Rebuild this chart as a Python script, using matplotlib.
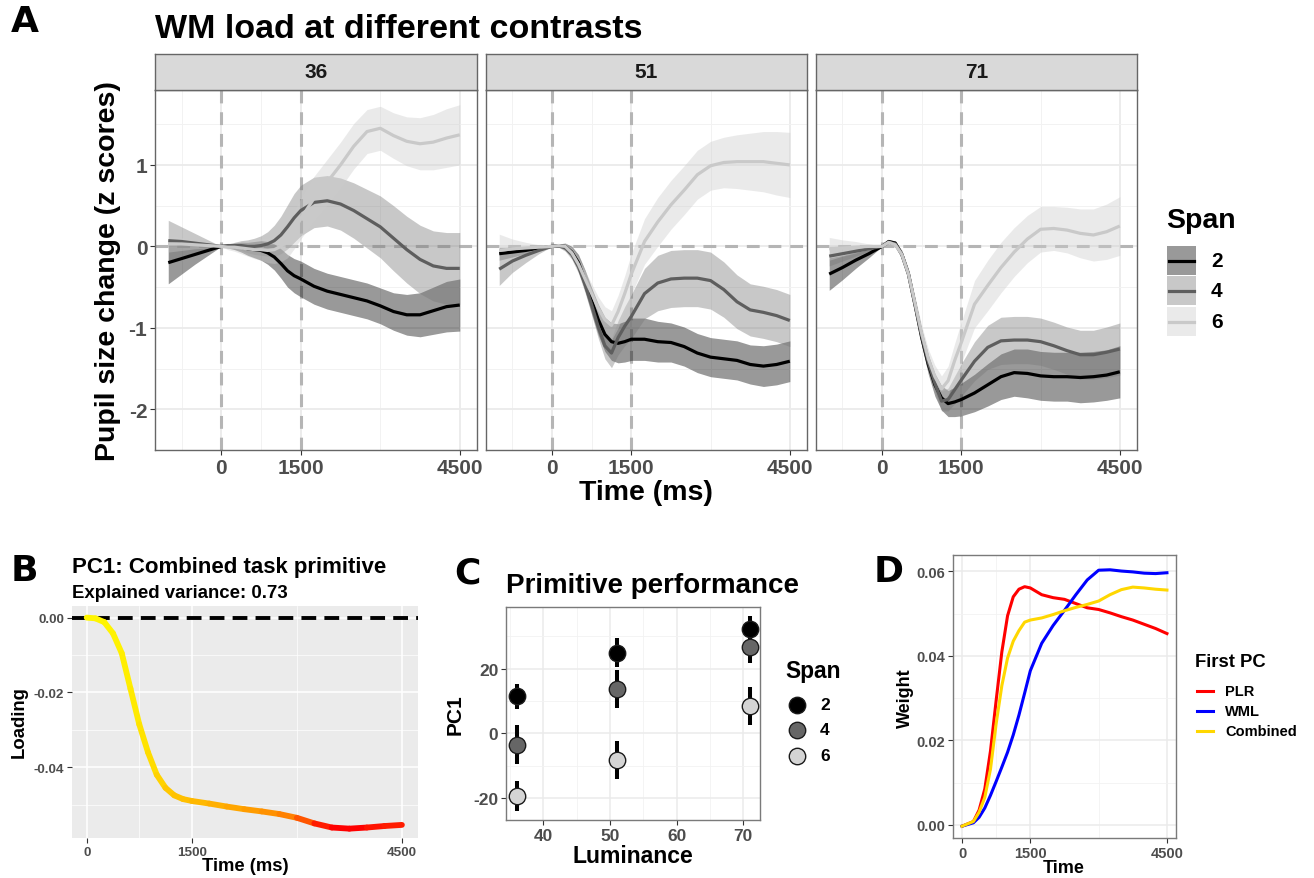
import numpy as np
import matplotlib
matplotlib.use("Agg")
import matplotlib.pyplot as plt
from matplotlib.collections import LineCollection
from matplotlib.colors import LinearSegmentedColormap, Normalize
from matplotlib.patches import Rectangle
from matplotlib.lines import Line2D

plt.rcParams['font.family'] = ['Liberation Sans', 'DejaVu Sans']
plt.rcParams['font.weight'] = 'bold'

# ---------------- DATA ----------------
# Panel A: pupil size change (z scores) by contrast facet and span
time_a = [-1000, -750, -500, -250, 0, 125, 250, 375, 500, 625, 750, 875, 1000, 1125,
          1250, 1375, 1500, 1750, 2000, 2250, 2500, 2750, 3000, 3250, 3500, 3750,
          4000, 4250, 4500]
facets = ["36", "51", "71"]
spans = ["2", "4", "6"]

c36_s2 = [-0.20, -0.15, -0.10, -0.05, 0, 0.0, 0.0, -0.01, -0.03, -0.04, -0.05, -0.08, -0.13, -0.21,
          -0.30, -0.36, -0.40, -0.49, -0.55, -0.59, -0.63, -0.67, -0.73, -0.80, -0.84, -0.84,
          -0.79, -0.74, -0.72]
c36_s2_ci = [0.26, 0.19, 0.12, 0.06, 0, 0.02, 0.04, 0.06, 0.08, 0.10, 0.12, 0.14, 0.16, 0.18,
             0.20, 0.21, 0.22, 0.22, 0.22, 0.22, 0.22, 0.22, 0.22, 0.23, 0.25, 0.27,
             0.29, 0.31, 0.32]
c36_s4 = [0.07, 0.06, 0.04, 0.02, 0, 0.01, 0.01, 0.01, 0.0, 0.0, 0.01, 0.03, 0.07, 0.14,
          0.24, 0.35, 0.44, 0.54, 0.56, 0.52, 0.44, 0.34, 0.24, 0.10, -0.04, -0.16,
          -0.24, -0.27, -0.27]
c36_s4_ci = [0.25, 0.18, 0.12, 0.06, 0, 0.02, 0.04, 0.06, 0.08, 0.10, 0.12, 0.15, 0.19, 0.23,
             0.27, 0.30, 0.31, 0.31, 0.31, 0.32, 0.34, 0.36, 0.38, 0.40, 0.41, 0.42,
             0.43, 0.44, 0.44]
c36_s6 = [0.03, 0.03, 0.02, 0.01, 0, -0.01, -0.01, -0.02, -0.03, -0.04, -0.04, -0.05, -0.04, 0.0,
          0.07, 0.20, 0.34, 0.59, 0.79, 1.00, 1.23, 1.41, 1.45, 1.36, 1.29, 1.26,
          1.28, 1.33, 1.37]
c36_s6_ci = [0.10, 0.08, 0.05, 0.03, 0, 0.03, 0.05, 0.07, 0.09, 0.11, 0.13, 0.15, 0.17, 0.19,
             0.21, 0.23, 0.25, 0.27, 0.28, 0.28, 0.28, 0.27, 0.27, 0.28, 0.30, 0.32,
             0.34, 0.36, 0.37]

c51_s2 = [-0.09, -0.07, -0.05, -0.02, 0, 0.01, 0.0, -0.07, -0.20, -0.42, -0.67, -0.90, -1.08, -1.17,
          -1.19, -1.17, -1.14, -1.14, -1.17, -1.18, -1.23, -1.31, -1.36, -1.38, -1.40, -1.45,
          -1.47, -1.45, -1.41]
c51_s2_ci = [0.08, 0.06, 0.04, 0.02, 0, 0.02, 0.04, 0.07, 0.10, 0.13, 0.16, 0.19, 0.21, 0.23,
             0.24, 0.25, 0.26, 0.26, 0.25, 0.24, 0.24, 0.24, 0.24, 0.24, 0.24, 0.24,
             0.25, 0.25, 0.25]
c51_s4 = [-0.28, -0.18, -0.11, -0.05, 0, 0.01, -0.02, -0.10, -0.25, -0.47, -0.72, -0.99, -1.22, -1.31,
          -1.12, -0.98, -0.86, -0.58, -0.45, -0.40, -0.39, -0.39, -0.42, -0.53, -0.68, -0.78,
          -0.81, -0.85, -0.91]
c51_s4_ci = [0.20, 0.14, 0.09, 0.04, 0, 0.02, 0.04, 0.06, 0.08, 0.10, 0.12, 0.14, 0.16, 0.18,
             0.21, 0.24, 0.27, 0.31, 0.34, 0.35, 0.35, 0.35, 0.35, 0.34, 0.33, 0.32,
             0.32, 0.32, 0.32]
c51_s6 = [-0.05, -0.03, -0.02, -0.01, 0, 0.01, 0.0, -0.08, -0.22, -0.40, -0.58, -0.76, -0.90, -0.97,
          -0.80, -0.58, -0.34, 0.06, 0.30, 0.51, 0.69, 0.88, 0.99, 1.03, 1.04, 1.04,
          1.04, 1.02, 1.00]
c51_s6_ci = [0.20, 0.12, 0.07, 0.03, 0, 0.02, 0.04, 0.06, 0.08, 0.10, 0.12, 0.14, 0.16, 0.18,
             0.20, 0.22, 0.25, 0.28, 0.30, 0.30, 0.30, 0.30, 0.30, 0.31, 0.33, 0.35,
             0.37, 0.39, 0.40]

c71_s2 = [-0.34, -0.26, -0.17, -0.09, 0, 0.06, 0.04, -0.10, -0.34, -0.72, -1.12, -1.45, -1.70, -1.86,
          -1.93, -1.91, -1.88, -1.80, -1.70, -1.60, -1.55, -1.56, -1.59, -1.60, -1.60, -1.61,
          -1.60, -1.58, -1.54]
c71_s2_ci = [0.20, 0.15, 0.10, 0.05, 0, 0.02, 0.03, 0.05, 0.06, 0.08, 0.10, 0.12, 0.14, 0.15,
             0.16, 0.18, 0.20, 0.23, 0.26, 0.28, 0.29, 0.30, 0.30, 0.30, 0.30, 0.31,
             0.31, 0.31, 0.32]
c71_s4 = [-0.12, -0.09, -0.06, -0.03, 0, 0.05, 0.03, -0.10, -0.34, -0.72, -1.10, -1.42, -1.68, -1.90,
          -1.88, -1.76, -1.64, -1.41, -1.24, -1.16, -1.15, -1.15, -1.17, -1.22, -1.28, -1.33,
          -1.33, -1.30, -1.26]
c71_s4_ci = [0.12, 0.09, 0.06, 0.03, 0, 0.02, 0.03, 0.04, 0.05, 0.06, 0.07, 0.08, 0.10, 0.12,
             0.14, 0.17, 0.20, 0.24, 0.27, 0.29, 0.29, 0.29, 0.29, 0.29, 0.29, 0.30,
             0.30, 0.31, 0.32]
c71_s6 = [-0.03, -0.02, -0.01, 0.0, 0, 0.05, 0.02, -0.10, -0.34, -0.70, -1.07, -1.38, -1.60, -1.75,
          -1.65, -1.40, -1.18, -0.71, -0.48, -0.26, -0.07, 0.09, 0.21, 0.22, 0.20, 0.16,
          0.14, 0.18, 0.25]
c71_s6_ci = [0.14, 0.10, 0.07, 0.03, 0, 0.02, 0.03, 0.05, 0.06, 0.08, 0.10, 0.12, 0.14, 0.16,
             0.18, 0.21, 0.25, 0.29, 0.31, 0.31, 0.30, 0.29, 0.28, 0.27, 0.28, 0.30,
             0.32, 0.34, 0.36]

panel_a = {
    "36": [(c36_s2, c36_s2_ci), (c36_s4, c36_s4_ci), (c36_s6, c36_s6_ci)],
    "51": [(c51_s2, c51_s2_ci), (c51_s4, c51_s4_ci), (c51_s6, c51_s6_ci)],
    "71": [(c71_s2, c71_s2_ci), (c71_s4, c71_s4_ci), (c71_s6, c71_s6_ci)],
}

# Panel B: PC1 loading
time_b = [0, 125, 250, 375, 500, 625, 750, 875, 1000, 1125, 1250, 1375, 1500, 1750, 2000,
          2250, 2500, 2750, 3000, 3250, 3500, 3750, 4000, 4250, 4500]
loading_b = [0.0, -0.0002, -0.0012, -0.0042, -0.0095, -0.0190, -0.0285, -0.0360, -0.0420,
             -0.0455, -0.0475, -0.0485, -0.0490, -0.0497, -0.0505, -0.0512, -0.0518, -0.0525,
             -0.0535, -0.0550, -0.0561, -0.0564, -0.0561, -0.0557, -0.0554]

# Panel C: primitive performance
luminance = [36, 51, 71]
pc1_mean = {"2": [11.5, 25.0, 32.4], "4": [-3.6, 13.8, 26.6], "6": [-19.4, -8.2, 8.6]}
pc1_low = {"2": [7.6, 20.5, 28.5], "4": [-9.5, 7.8, 21.8], "6": [-24.0, -14.0, 2.7]}
pc1_high = {"2": [15.2, 29.6, 36.3], "4": [2.6, 19.7, 30.4], "6": [-14.7, -2.5, 14.3]}

# Panel D: first PC weights
time_d = [0, 250, 375, 500, 625, 750, 875, 1000, 1125, 1250, 1375, 1500, 1750, 2000, 2250,
          2500, 2750, 3000, 3250, 3500, 3750, 4000, 4250, 4500]
w_plr = [-0.0003, 0.0008, 0.0035, 0.0085, 0.0175, 0.0295, 0.0410, 0.0495, 0.0540, 0.0558,
         0.0564, 0.0561, 0.0545, 0.0538, 0.0534, 0.0524, 0.0514, 0.0510, 0.0502, 0.0493,
         0.0485, 0.0475, 0.0465, 0.0453]
w_wml = [-0.0003, 0.0005, 0.0018, 0.0040, 0.0070, 0.0103, 0.0137, 0.0172, 0.0213, 0.0260,
         0.0312, 0.0365, 0.0430, 0.0472, 0.0508, 0.0545, 0.0580, 0.0603, 0.0604, 0.0601,
         0.0599, 0.0596, 0.0595, 0.0597]
w_comb = [-0.0003, 0.0008, 0.0030, 0.0065, 0.0132, 0.0240, 0.0330, 0.0395, 0.0435, 0.0460,
          0.0480, 0.0485, 0.0490, 0.0498, 0.0507, 0.0515, 0.0522, 0.0530, 0.0545, 0.0557,
          0.0563, 0.0561, 0.0558, 0.0556]
pc_names = ["PLR", "WML", "Combined"]

# ---------------- STYLE ----------------
W, H = 1314, 879
fig = plt.figure(figsize=(W / 100, H / 100), dpi=100)
TICKC = '#4d4d4d'


def px_axes(x0, y0, x1, y1):
    return fig.add_axes([x0 / W, 1 - y1 / H, (x1 - x0) / W, (y1 - y0) / H])


def style_ticks(ax, size, left=True, bottom=True):
    ax.tick_params(which='major', length=3.5, width=0.8, color='#333333',
                   labelsize=size, labelcolor=TICKC, pad=2,
                   left=left, bottom=bottom, labelleft=left, labelbottom=bottom)
    ax.tick_params(which='minor', length=0)
    for lab in ax.get_xticklabels() + ax.get_yticklabels():
        lab.set_fontweight('bold')


line_cols = ['#000000', '#5e5e5e', '#c9c9c9']
fill_cols = ['#000000', '#777777', '#cccccc']
fill_alpha = 0.4

# ---------------- PANEL A ----------------
facet_x = [(155, 477), (486, 807), (816, 1137)]
for i, fac in enumerate(facets):
    x0, x1 = facet_x[i]
    ax = px_axes(x0, 91, x1, 451)
    ax.set_facecolor('white')
    ax.set_xlim(-1250, 4825)
    ax.set_ylim(-2.5, 1.92)
    ax.set_xticks([0, 1500, 4500])
    ax.set_xticks([-750, 750, 3000], minor=True)
    ax.set_yticks([-2, -1, 0, 1])
    ax.set_yticklabels(['-2', '-1', '0', '1'])
    ax.set_yticks([-1.5, -0.5, 0.5, 1.5], minor=True)
    ax.grid(which='major', color='#ebebeb', lw=1.3)
    ax.grid(which='minor', color='#f2f2f2', lw=0.7)
    ax.set_axisbelow(True)
    for sp in ax.spines.values():
        sp.set_color('#666666')
        sp.set_linewidth(1.0)
    for xv in [0, 1500]:
        ax.axvline(xv, color='#b5b5b5', lw=2.2, dashes=(4.2, 2.9), zorder=1)
    ax.axhline(0, color='#b5b5b5', lw=2.2, dashes=(4.2, 2.9), zorder=1)
    t = np.array(time_a)
    for j, (m, ci) in enumerate(panel_a[fac]):
        m = np.array(m)
        ci = np.array(ci)
        ax.fill_between(t, m - ci, m + ci, color=fill_cols[j], alpha=fill_alpha, lw=0, zorder=2)
    for j, (m, ci) in enumerate(panel_a[fac]):
        ax.plot(t, m, color=line_cols[j], lw=2.3, zorder=3, solid_capstyle='butt')
    style_ticks(ax, 15, left=(i == 0))
    # strip
    sax = px_axes(x0, 55, x1, 91)
    sax.set_facecolor('#d9d9d9')
    sax.set_xticks([])
    sax.set_yticks([])
    for sp in sax.spines.values():
        sp.set_color('#666666')
        sp.set_linewidth(1.0)
    sax.text(0.5, 0.5, fac, transform=sax.transAxes, ha='center', va='center',
             fontsize=15, fontweight='bold', color='#1a1a1a')

# ---------------- PANEL B ----------------
axb = px_axes(72, 607, 418, 839)
axb.set_facecolor('#ebebeb')
axb.set_xlim(-210, 4730)
axb.set_ylim(-0.0589, 0.0031)
axb.set_xticks([0, 1500, 4500])
axb.set_xticks([750, 3000], minor=True)
axb.set_yticks([-0.04, -0.02, 0.0])
axb.set_yticklabels(['-0.04', '-0.02', '0.00'])
axb.set_yticks([-0.05, -0.03, -0.01], minor=True)
axb.grid(which='major', color='white', lw=1.1)
axb.grid(which='minor', color='white', lw=0.5)
axb.set_axisbelow(True)
for sp in axb.spines.values():
    sp.set_visible(False)
axb.axhline(0, color='black', lw=2.8, dashes=(3.8, 2.1), zorder=2)
tb = np.array(time_b, dtype=float)
lb = np.array(loading_b)
pts = np.column_stack([tb, lb]).reshape(-1, 1, 2)
segs = np.concatenate([pts[:-1], pts[1:]], axis=1)
cmap_b = LinearSegmentedColormap.from_list(
    'ry', [(0, '#ff0000'), (0.02, '#ff3000'), (0.05, '#ff7800'), (0.09, '#ffa000'),
           (0.13, '#ffbe00'), (0.25, '#ffd800'), (0.5, '#ffe800'), (1, '#fff500')])
norm_b = Normalize(vmin=lb.min(), vmax=0.0)
lc = LineCollection(segs, cmap=cmap_b, norm=norm_b, lw=4.2, zorder=3)
lc.set_array((lb[:-1] + lb[1:]) / 2)
lc.set_capstyle('round')
axb.add_collection(lc)
style_ticks(axb, 9.7)

# ---------------- PANEL C ----------------
axc = px_axes(506, 608, 760, 821)
axc.set_facecolor('white')
axc.set_xlim(34.4, 72.5)
axc.set_ylim(-26.8, 39.1)
axc.set_xticks([40, 50, 60, 70])
axc.set_xticks([35, 45, 55, 65], minor=True)
axc.set_yticks([-20, 0, 20])
axc.set_yticklabels(['-20', '0', '20'])
axc.set_yticks([-10, 10, 30], minor=True)
axc.grid(which='major', color='#ebebeb', lw=1.1)
axc.grid(which='minor', color='#f2f2f2', lw=0.6)
axc.set_axisbelow(True)
for sp in axc.spines.values():
    sp.set_color('#7a7a7a')
    sp.set_linewidth(1.0)
pt_fill = {"2": '#000000', "4": '#666666', "6": '#d4d4d4'}
for s in spans:
    axc.vlines(luminance, pc1_low[s], pc1_high[s], color='black', lw=2.9, zorder=2)
for s in spans:
    axc.scatter(luminance, pc1_mean[s], s=140, c=pt_fill[s], edgecolors='#1a1a1a',
                linewidths=1.0, zorder=3)
style_ticks(axc, 12.5)

# ---------------- PANEL D ----------------
axd = px_axes(953, 556, 1176, 839)
axd.set_facecolor('white')
axd.set_xlim(-198, 4699)
axd.set_ylim(-0.0031, 0.0639)
axd.set_xticks([0, 1500, 4500])
axd.set_xticks([750, 3000], minor=True)
axd.set_yticks([0.0, 0.02, 0.04, 0.06])
axd.set_yticklabels(['0.00', '0.02', '0.04', '0.06'])
axd.set_yticks([0.01, 0.03, 0.05], minor=True)
axd.grid(which='major', color='#ebebeb', lw=1.1)
axd.grid(which='minor', color='#f2f2f2', lw=0.6)
axd.set_axisbelow(True)
for sp in axd.spines.values():
    sp.set_color('#7a7a7a')
    sp.set_linewidth(1.0)
d_cols = ['#ff0000', '#0000ff', '#ffd700']
for name, w, c in zip(pc_names, [w_plr, w_wml, w_comb], d_cols):
    axd.plot(time_d, w, color=c, lw=2.2, zorder=3)
style_ticks(axd, 10.5)

# ---------------- OVERLAY (text, legends) ----------------
ov = fig.add_axes([0, 0, 1, 1])
ov.set_xlim(0, W)
ov.set_ylim(H, 0)
ov.axis('off')
ov.patch.set_alpha(0)

def T(x, y, s, size, ha='center', va='center', rot=0, family=None, color='black'):
    kw = {}
    if family:
        kw['family'] = family
    ov.text(x, y, s, fontsize=size, ha=ha, va=va, rotation=rot, fontweight='bold',
            color=color, **kw)

# letters
for (lx, ly, L) in [(25, 22, 'A'), (24, 571, 'B'), (467, 574, 'C'), (889, 572, 'D')]:
    T(lx, ly, L, 26, family=['DejaVu Sans'])

# panel A texts
T(155, 38, 'WM load at different contrasts', 24.5, ha='left', va='baseline')
T(108, 271, 'Pupil size change (z scores)', 20.5, rot=90)
T(646, 493, 'Time (ms)', 20.5)
T(1166, 228, 'Span', 20.5, ha='left', va='baseline')
key_y = [(247, 276), (277, 306), (308, 337)]
for j, s in enumerate(spans):
    ya, yb = key_y[j]
    ov.add_patch(Rectangle((1167, ya), 29, yb - ya, facecolor=fill_cols[j], alpha=fill_alpha,
                           lw=0))
    ov.add_line(Line2D([1169, 1194], [(ya + yb) / 2] * 2, color=line_cols[j], lw=2.3))
    T(1211, (ya + yb) / 2, s, 15, ha='left')

# panel B texts
T(72, 573, 'PC1: Combined task primitive', 16, ha='left', va='baseline')
T(72, 598, 'Explained variance: 0.73', 13.4, ha='left', va='baseline')
T(19, 722, 'Loading', 13.3, rot=90)
T(245, 867, 'Time (ms)', 13.3)

# panel C texts
T(506, 593, 'Primitive performance', 20, ha='left', va='baseline')
T(455, 715, 'PC1', 15, rot=90)
T(633, 857, 'Luminance', 16.6)
T(785, 672, 'Span', 16.4, ha='left')
for j, (s, yk) in enumerate(zip(spans, [706, 731, 757])):
    ov.scatter([797], [yk], s=140, c=pt_fill[s], edgecolors='#1a1a1a', linewidths=1.0)
    T(820, yk, s, 12.5, ha='left')

# panel D texts
T(905, 698, 'Weight', 13, rot=90)
T(1064, 869, 'Time', 13)
T(1195, 663, 'First PC', 13.3, ha='left')
for name, c, yk in zip(pc_names, d_cols, [692, 712, 732]):
    ov.add_line(Line2D([1197, 1213], [yk, yk], color=c, lw=2.2))
    T(1225, yk, name, 10.5, ha='left')

fig.savefig('out.png', dpi=100)
